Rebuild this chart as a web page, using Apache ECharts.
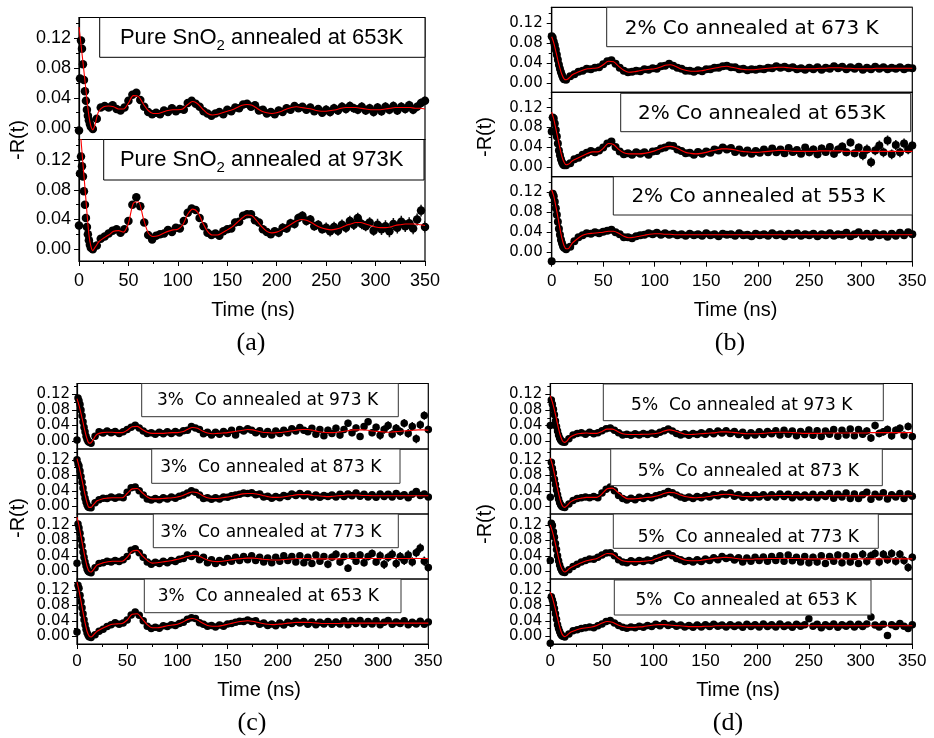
<!DOCTYPE html>
<html>
<head>
<meta charset="utf-8">
<title>-R(t) spectra</title>
<script src="https://cdn.jsdelivr.net/npm/echarts@6.0.0/dist/echarts.min.js"></script>
<style>
  html, body { margin: 0; padding: 0; background: #fff; }
  #chart { width: 934px; height: 738px; }
</style>
</head>
<body>
<div id="chart"></div>
<script>
// time grids (ns): fit curve samples and data point samples
const fitT = [0, 2, 4, 6, 8, 10, 12, 14, 16, 18, 20,
  25, 30, 35, 40, 45, 50, 55, 60, 65, 70,
  75, 80, 85, 90, 95, 100, 105, 110, 115, 120,
  125, 130, 135, 140, 145, 150, 155, 160, 165, 170,
  175, 180, 185, 190, 195, 200, 205, 210, 215, 220,
  225, 230, 235, 240, 245, 250, 255, 260, 265, 270,
  275, 280, 285, 290, 295, 300, 305, 310, 315, 320,
  325, 330, 335, 340, 345, 350]
const dataT = [0, 1, 2, 3, 4, 5, 6, 7, 8, 9, 10, 11, 12,
  14, 18, 22, 26, 30, 34, 38, 42, 46, 50,
  54, 58, 62, 66, 70, 74, 78, 82, 86, 90,
  94, 98, 102, 106, 110, 114, 118, 122, 126, 130,
  134, 138, 142, 146, 150, 154, 158, 162, 166, 170,
  174, 178, 182, 186, 190, 194, 198, 202, 206, 210,
  214, 218, 222, 226, 230, 234, 238, 242, 246, 250,
  254, 258, 262, 266, 270, 274, 278, 282, 286, 290,
  294, 298, 302, 306, 310, 314, 318, 322, 326, 330,
  334, 338, 342, 346, 350]

const yMajor = [0, 0.04, 0.08, 0.12]
const yMinor = [0.02, 0.06, 0.10, 0.14]

// ---- (a) pure SnO2 ----
const labelsA = ['Pure SnO{sub|2} annealed at 653K', 'Pure SnO{sub|2} annealed at 973K']
const fitA1 = [0.135, 0.112, 0.088, 0.063, 0.038, 0.016, 0.002, -0.003, 0.003, 0.014, 0.022,
  0.028, 0.029, 0.028, 0.025, 0.025, 0.033, 0.043, 0.042, 0.032, 0.023,
  0.019, 0.019, 0.021, 0.023, 0.024, 0.024, 0.025, 0.031, 0.035, 0.032,
  0.025, 0.019, 0.017, 0.018, 0.020, 0.022, 0.024, 0.027, 0.030, 0.031,
  0.030, 0.026, 0.022, 0.020, 0.019, 0.020, 0.022, 0.025, 0.027, 0.028,
  0.027, 0.026, 0.025, 0.023, 0.022, 0.022, 0.023, 0.024, 0.026, 0.027,
  0.027, 0.027, 0.026, 0.025, 0.024, 0.024, 0.024, 0.025, 0.026, 0.027,
  0.027, 0.027, 0.027, 0.026, 0.026, 0.025]
const dataA1 = [-0.004, 0.066, 0.117, 0.106, 0.085, 0.064, 0.049, 0.036, 0.024, 0.016, 0.010, 0.005, 0.001,
  -0.002, 0.012, 0.027, 0.029, 0.027, 0.030, 0.025, 0.023, 0.027, 0.036,
  0.044, 0.047, 0.037, 0.028, 0.021, 0.018, 0.020, 0.018, 0.023, 0.021,
  0.026, 0.022, 0.025, 0.024, 0.033, 0.036, 0.032, 0.028, 0.022, 0.019,
  0.016, 0.019, 0.021, 0.018, 0.024, 0.022, 0.027, 0.026, 0.031, 0.032,
  0.028, 0.030, 0.023, 0.024, 0.019, 0.021, 0.018, 0.023, 0.021, 0.026,
  0.024, 0.029, 0.026, 0.028, 0.024, 0.027, 0.022, 0.025, 0.020, 0.024,
  0.021, 0.026, 0.023, 0.028, 0.025, 0.029, 0.026, 0.024, 0.028, 0.023,
  0.026, 0.021, 0.027, 0.022, 0.028, 0.024, 0.029, 0.023, 0.028, 0.025,
  0.030, 0.024, 0.028, 0.033, 0.036]
const errA1 = [0.002, 0.003, 0.004, 0.004, 0.005, 0.006, 0.006]
const fitA2 = [0.180, 0.148, 0.115, 0.083, 0.050, 0.020, 0.004, -0.002, 0.002, 0.006, 0.010,
  0.015, 0.019, 0.024, 0.025, 0.023, 0.035, 0.062, 0.064, 0.042, 0.022,
  0.017, 0.018, 0.021, 0.024, 0.026, 0.027, 0.033, 0.047, 0.054, 0.050,
  0.036, 0.024, 0.019, 0.019, 0.022, 0.026, 0.030, 0.036, 0.042, 0.046,
  0.045, 0.038, 0.030, 0.024, 0.022, 0.023, 0.026, 0.030, 0.034, 0.038,
  0.040, 0.039, 0.036, 0.032, 0.029, 0.027, 0.026, 0.027, 0.029, 0.032,
  0.034, 0.036, 0.036, 0.034, 0.032, 0.030, 0.029, 0.029, 0.030, 0.032,
  0.033, 0.034, 0.034, 0.034, 0.033, 0.032]
const dataA2 = [0.032, 0.102, 0.125, 0.112, 0.098, 0.078, 0.060, 0.042, 0.030, 0.020, 0.012, 0.006, 0.002,
  0.000, 0.005, 0.014, 0.017, 0.021, 0.025, 0.027, 0.022, 0.027, 0.038,
  0.060, 0.070, 0.058, 0.036, 0.019, 0.013, 0.018, 0.020, 0.021, 0.026,
  0.023, 0.029, 0.028, 0.038, 0.049, 0.055, 0.053, 0.042, 0.031, 0.022,
  0.019, 0.021, 0.018, 0.024, 0.027, 0.028, 0.036, 0.037, 0.045, 0.047,
  0.047, 0.039, 0.036, 0.027, 0.023, 0.020, 0.024, 0.022, 0.029, 0.028,
  0.035, 0.034, 0.042, 0.045, 0.038, 0.040, 0.031, 0.033, 0.027, 0.029,
  0.024, 0.030, 0.025, 0.033, 0.029, 0.038, 0.033, 0.042, 0.034, 0.031,
  0.036, 0.025, 0.033, 0.027, 0.031, 0.024, 0.034, 0.029, 0.037, 0.031,
  0.035, 0.028, 0.040, 0.052, 0.030]
const errA2 = [0.002, 0.003, 0.004, 0.005, 0.006, 0.007, 0.008]

// ---- (b) 2% Co ----
const labelsB = ['2% Co annealed at 673 K', '2% Co annealed at 653K', '2% Co annealed at 553 K']
const fitB1 = [0.092, 0.080, 0.063, 0.045, 0.029, 0.016, 0.008, 0.006, 0.008, 0.012, 0.016,
  0.021, 0.025, 0.028, 0.029, 0.030, 0.036, 0.043, 0.042, 0.033, 0.025,
  0.021, 0.022, 0.024, 0.026, 0.027, 0.028, 0.031, 0.035, 0.036, 0.033,
  0.028, 0.025, 0.023, 0.023, 0.024, 0.026, 0.028, 0.030, 0.032, 0.033,
  0.031, 0.029, 0.027, 0.026, 0.026, 0.027, 0.028, 0.029, 0.030, 0.031,
  0.031, 0.030, 0.029, 0.028, 0.028, 0.028, 0.028, 0.029, 0.029, 0.030,
  0.030, 0.030, 0.029, 0.029, 0.028, 0.028, 0.028, 0.028, 0.029, 0.029,
  0.029, 0.029, 0.029, 0.029, 0.029, 0.029]
const dataB1 = [0.093, 0.090, 0.082, 0.075, 0.066, 0.056, 0.046, 0.036, 0.028, 0.021, 0.015, 0.010, 0.007,
  0.006, 0.013, 0.017, 0.022, 0.024, 0.028, 0.027, 0.030, 0.031, 0.037,
  0.043, 0.045, 0.038, 0.030, 0.024, 0.021, 0.022, 0.024, 0.023, 0.027,
  0.026, 0.029, 0.028, 0.033, 0.034, 0.038, 0.034, 0.030, 0.028, 0.024,
  0.024, 0.022, 0.025, 0.023, 0.027, 0.027, 0.030, 0.030, 0.033, 0.034,
  0.031, 0.031, 0.027, 0.028, 0.025, 0.027, 0.026, 0.028, 0.027, 0.030,
  0.029, 0.033, 0.030, 0.032, 0.029, 0.031, 0.027, 0.029, 0.026, 0.030,
  0.027, 0.031, 0.026, 0.030, 0.028, 0.033, 0.029, 0.032, 0.027, 0.031,
  0.028, 0.032, 0.026, 0.030, 0.027, 0.032, 0.028, 0.031, 0.027, 0.030,
  0.028, 0.031, 0.027, 0.030, 0.029]
const errB1 = [0.002, 0.003, 0.003, 0.004, 0.004, 0.005, 0.005]
const fitB2 = [0.111, 0.097, 0.078, 0.058, 0.038, 0.021, 0.010, 0.005, 0.006, 0.009, 0.013,
  0.018, 0.023, 0.028, 0.031, 0.031, 0.038, 0.048, 0.046, 0.036, 0.029,
  0.027, 0.027, 0.027, 0.028, 0.030, 0.033, 0.037, 0.041, 0.042, 0.040,
  0.035, 0.030, 0.028, 0.027, 0.028, 0.030, 0.033, 0.035, 0.037, 0.037,
  0.036, 0.034, 0.032, 0.031, 0.030, 0.030, 0.031, 0.032, 0.033, 0.034,
  0.034, 0.033, 0.032, 0.032, 0.032, 0.032, 0.032, 0.033, 0.033, 0.033,
  0.033, 0.033, 0.032, 0.032, 0.032, 0.032, 0.032, 0.032, 0.032, 0.032,
  0.032, 0.032, 0.032, 0.032, 0.032, 0.032]
const dataB2 = [0.072, 0.100, 0.098, 0.088, 0.075, 0.062, 0.048, 0.034, 0.024, 0.016, 0.010, 0.006, 0.004,
  0.004, 0.008, 0.016, 0.019, 0.025, 0.029, 0.033, 0.030, 0.034, 0.040,
  0.048, 0.052, 0.041, 0.032, 0.026, 0.028, 0.025, 0.030, 0.027, 0.030,
  0.025, 0.032, 0.033, 0.038, 0.040, 0.044, 0.043, 0.036, 0.033, 0.028,
  0.029, 0.025, 0.031, 0.027, 0.032, 0.029, 0.036, 0.034, 0.040, 0.036,
  0.039, 0.031, 0.036, 0.029, 0.034, 0.027, 0.033, 0.029, 0.036, 0.030,
  0.038, 0.030, 0.036, 0.028, 0.039, 0.031, 0.035, 0.027, 0.040, 0.030,
  0.036, 0.026, 0.038, 0.031, 0.041, 0.027, 0.036, 0.042, 0.030, 0.050,
  0.028, 0.040, 0.024, 0.036, 0.010, 0.034, 0.044, 0.030, 0.054, 0.026,
  0.045, 0.030, 0.048, 0.036, 0.044]
const errB2 = [0.002, 0.003, 0.004, 0.005, 0.006, 0.008, 0.010]
const fitB3 = [0.125, 0.112, 0.092, 0.070, 0.047, 0.027, 0.013, 0.007, 0.007, 0.012, 0.018,
  0.027, 0.034, 0.037, 0.038, 0.039, 0.040, 0.042, 0.042, 0.038, 0.032,
  0.029, 0.030, 0.032, 0.034, 0.036, 0.037, 0.037, 0.036, 0.036, 0.035,
  0.035, 0.035, 0.035, 0.035, 0.035, 0.035, 0.035, 0.035, 0.035, 0.035,
  0.035, 0.035, 0.035, 0.035, 0.035, 0.035, 0.035, 0.035, 0.035, 0.035,
  0.035, 0.035, 0.035, 0.035, 0.035, 0.035, 0.035, 0.035, 0.035, 0.035,
  0.035, 0.035, 0.035, 0.035, 0.035, 0.035, 0.035, 0.035, 0.035, 0.035,
  0.035, 0.035, 0.035, 0.035, 0.035, 0.035]
const dataB3 = [-0.018, 0.117, 0.112, 0.101, 0.088, 0.075, 0.061, 0.047, 0.035, 0.025, 0.018, 0.012, 0.009,
  0.006, 0.011, 0.022, 0.030, 0.034, 0.038, 0.037, 0.040, 0.038, 0.041,
  0.043, 0.045, 0.040, 0.036, 0.030, 0.030, 0.028, 0.032, 0.034, 0.035,
  0.038, 0.036, 0.039, 0.035, 0.038, 0.035, 0.037, 0.034, 0.036, 0.033,
  0.037, 0.034, 0.036, 0.033, 0.038, 0.034, 0.036, 0.032, 0.037, 0.035,
  0.036, 0.033, 0.038, 0.034, 0.035, 0.032, 0.037, 0.034, 0.036, 0.033,
  0.038, 0.034, 0.036, 0.032, 0.037, 0.035, 0.038, 0.033, 0.036, 0.034,
  0.037, 0.032, 0.036, 0.034, 0.038, 0.033, 0.036, 0.035, 0.039, 0.032,
  0.036, 0.040, 0.033, 0.037, 0.031, 0.038, 0.034, 0.036, 0.031, 0.037,
  0.033, 0.039, 0.034, 0.040, 0.036]
const errB3 = [0.002, 0.003, 0.003, 0.004, 0.004, 0.005, 0.006]

// ---- (c) 3% Co ----
const labelsC = ['3%  Co annealed at 973 K', '3%  Co annealed at 873 K', '3%  Co annealed at 773 K', '3%  Co annealed at 653 K']
const fitC1 = [0.109, 0.092, 0.071, 0.048, 0.025, 0.006, -0.005, -0.004, 0.003, 0.012, 0.018,
  0.022, 0.023, 0.023, 0.022, 0.022, 0.028, 0.037, 0.038, 0.030, 0.023,
  0.020, 0.020, 0.020, 0.021, 0.022, 0.022, 0.024, 0.030, 0.035, 0.033,
  0.026, 0.021, 0.019, 0.020, 0.021, 0.022, 0.024, 0.026, 0.028, 0.030,
  0.029, 0.026, 0.023, 0.022, 0.021, 0.022, 0.023, 0.025, 0.027, 0.029,
  0.030, 0.030, 0.028, 0.025, 0.023, 0.022, 0.022, 0.023, 0.025, 0.027,
  0.029, 0.029, 0.029, 0.028, 0.026, 0.025, 0.024, 0.023, 0.024, 0.025,
  0.026, 0.027, 0.028, 0.029, 0.029, 0.028]
const dataC1 = [0.003, 0.111, 0.104, 0.094, 0.080, 0.065, 0.050, 0.036, 0.024, 0.013, 0.005, 0.000, -0.003,
  -0.005, 0.013, 0.024, 0.021, 0.026, 0.022, 0.025, 0.020, 0.024, 0.030,
  0.036, 0.041, 0.034, 0.026, 0.020, 0.022, 0.018, 0.023, 0.019, 0.024,
  0.020, 0.025, 0.021, 0.027, 0.028, 0.038, 0.034, 0.030, 0.019, 0.023,
  0.016, 0.023, 0.018, 0.025, 0.020, 0.028, 0.016, 0.030, 0.026, 0.032,
  0.028, 0.022, 0.027, 0.018, 0.025, 0.016, 0.026, 0.020, 0.028, 0.022,
  0.032, 0.026, 0.035, 0.028, 0.024, 0.033, 0.018, 0.030, 0.014, 0.028,
  0.020, 0.033, 0.016, 0.030, 0.046, 0.022, 0.034, 0.012, 0.038, 0.050,
  0.022, 0.036, 0.015, 0.030, 0.040, 0.018, 0.033, 0.025, 0.046, 0.020,
  0.038, 0.006, 0.042, 0.066, 0.030]
const errC1 = [0.003, 0.004, 0.005, 0.006, 0.007, 0.009, 0.011]
const fitC2 = [0.123, 0.103, 0.080, 0.055, 0.030, 0.009, -0.003, -0.003, 0.003, 0.009, 0.014,
  0.019, 0.021, 0.022, 0.022, 0.022, 0.033, 0.045, 0.046, 0.035, 0.024,
  0.019, 0.019, 0.020, 0.021, 0.022, 0.024, 0.027, 0.033, 0.037, 0.035,
  0.028, 0.022, 0.020, 0.020, 0.022, 0.024, 0.026, 0.029, 0.032, 0.033,
  0.033, 0.031, 0.028, 0.025, 0.023, 0.023, 0.024, 0.026, 0.028, 0.030,
  0.030, 0.030, 0.028, 0.027, 0.026, 0.025, 0.026, 0.027, 0.028, 0.029,
  0.029, 0.029, 0.028, 0.028, 0.027, 0.027, 0.027, 0.027, 0.027, 0.027,
  0.027, 0.027, 0.027, 0.027, 0.027, 0.027]
const dataC2 = [0.120, 0.110, 0.104, 0.091, 0.077, 0.062, 0.047, 0.033, 0.021, 0.011, 0.004, -0.001, -0.003,
  -0.004, 0.009, 0.017, 0.021, 0.020, 0.024, 0.021, 0.024, 0.022, 0.036,
  0.048, 0.050, 0.040, 0.029, 0.019, 0.016, 0.020, 0.017, 0.022, 0.019,
  0.024, 0.021, 0.026, 0.029, 0.034, 0.040, 0.036, 0.029, 0.020, 0.022,
  0.018, 0.022, 0.019, 0.024, 0.023, 0.027, 0.029, 0.031, 0.034, 0.033,
  0.035, 0.030, 0.032, 0.024, 0.026, 0.021, 0.025, 0.022, 0.028, 0.025,
  0.032, 0.028, 0.033, 0.027, 0.032, 0.024, 0.029, 0.023, 0.028, 0.025,
  0.029, 0.024, 0.031, 0.025, 0.032, 0.027, 0.034, 0.026, 0.031, 0.024,
  0.030, 0.023, 0.032, 0.025, 0.031, 0.024, 0.033, 0.026, 0.030, 0.022,
  0.031, 0.038, 0.028, 0.032, 0.024]
const errC2 = [0.003, 0.004, 0.004, 0.005, 0.005, 0.006, 0.007]
const fitC3 = [0.140, 0.118, 0.090, 0.062, 0.035, 0.013, 0.000, -0.002, 0.003, 0.010, 0.016,
  0.021, 0.024, 0.026, 0.026, 0.026, 0.036, 0.052, 0.054, 0.040, 0.028,
  0.021, 0.022, 0.024, 0.026, 0.028, 0.031, 0.034, 0.038, 0.041, 0.040,
  0.035, 0.029, 0.026, 0.025, 0.026, 0.028, 0.030, 0.032, 0.033, 0.034,
  0.034, 0.033, 0.031, 0.030, 0.029, 0.029, 0.030, 0.031, 0.032, 0.033,
  0.033, 0.033, 0.032, 0.032, 0.032, 0.032, 0.032, 0.032, 0.033, 0.033,
  0.033, 0.033, 0.033, 0.033, 0.033, 0.033, 0.033, 0.033, 0.033, 0.033,
  0.033, 0.033, 0.033, 0.033, 0.033, 0.033]
const dataC3 = [0.021, 0.122, 0.112, 0.098, 0.082, 0.066, 0.050, 0.036, 0.024, 0.014, 0.006, 0.001, -0.002,
  -0.004, 0.009, 0.020, 0.022, 0.026, 0.024, 0.028, 0.025, 0.030, 0.038,
  0.054, 0.058, 0.048, 0.036, 0.024, 0.018, 0.023, 0.020, 0.026, 0.022,
  0.028, 0.025, 0.031, 0.033, 0.042, 0.038, 0.044, 0.030, 0.036, 0.022,
  0.030, 0.020, 0.028, 0.023, 0.033, 0.026, 0.036, 0.028, 0.038, 0.030,
  0.040, 0.028, 0.036, 0.024, 0.034, 0.022, 0.036, 0.026, 0.040, 0.028,
  0.038, 0.024, 0.040, 0.022, 0.036, 0.020, 0.042, 0.026, 0.038, 0.018,
  0.036, 0.044, 0.024, 0.038, 0.008, 0.040, 0.026, 0.042, 0.022, 0.038,
  0.046, 0.024, 0.040, 0.018, 0.036, 0.044, 0.020, 0.038, 0.028, 0.042,
  0.024, 0.048, 0.060, 0.026, 0.010]
const errC3 = [0.003, 0.004, 0.005, 0.007, 0.008, 0.010, 0.012]
const fitC4 = [0.140, 0.118, 0.090, 0.062, 0.035, 0.013, 0.001, -0.002, 0.002, 0.008, 0.013,
  0.020, 0.026, 0.031, 0.032, 0.033, 0.042, 0.057, 0.058, 0.045, 0.030,
  0.022, 0.022, 0.024, 0.027, 0.029, 0.031, 0.036, 0.043, 0.046, 0.042,
  0.034, 0.028, 0.026, 0.026, 0.028, 0.031, 0.034, 0.037, 0.039, 0.040,
  0.039, 0.036, 0.033, 0.031, 0.030, 0.031, 0.032, 0.034, 0.035, 0.036,
  0.036, 0.036, 0.035, 0.034, 0.033, 0.033, 0.033, 0.033, 0.034, 0.034,
  0.034, 0.034, 0.034, 0.034, 0.034, 0.034, 0.034, 0.034, 0.034, 0.034,
  0.034, 0.034, 0.034, 0.034, 0.034, 0.034]
const dataC4 = [0.011, 0.132, 0.124, 0.106, 0.090, 0.074, 0.058, 0.043, 0.030, 0.018, 0.009, 0.003, -0.001,
  -0.003, 0.004, 0.013, 0.018, 0.025, 0.030, 0.035, 0.031, 0.034, 0.042,
  0.055, 0.063, 0.054, 0.040, 0.026, 0.020, 0.023, 0.021, 0.027, 0.025,
  0.030, 0.028, 0.033, 0.036, 0.044, 0.048, 0.046, 0.035, 0.031, 0.026,
  0.028, 0.024, 0.029, 0.026, 0.032, 0.033, 0.036, 0.039, 0.038, 0.042,
  0.038, 0.040, 0.031, 0.034, 0.028, 0.032, 0.027, 0.034, 0.029, 0.036,
  0.033, 0.039, 0.034, 0.038, 0.031, 0.037, 0.030, 0.036, 0.032, 0.038,
  0.031, 0.037, 0.032, 0.040, 0.030, 0.039, 0.033, 0.041, 0.031, 0.038,
  0.032, 0.040, 0.030, 0.036, 0.041, 0.031, 0.037, 0.033, 0.040, 0.030,
  0.036, 0.032, 0.039, 0.031, 0.037]
const errC4 = [0.003, 0.004, 0.004, 0.005, 0.005, 0.006, 0.006]

// ---- (d) 5% Co ----
const labelsD = ['5%  Co annealed at 973 K', '5%  Co annealed at 873 K', '5%  Co annealed at 773 K', '5%  Co annealed at 653 K']
const fitD1 = [0.117, 0.100, 0.080, 0.056, 0.032, 0.012, 0.000, -0.003, 0.000, 0.007, 0.012,
  0.018, 0.020, 0.021, 0.020, 0.020, 0.025, 0.031, 0.031, 0.025, 0.019,
  0.017, 0.017, 0.017, 0.018, 0.018, 0.019, 0.021, 0.026, 0.029, 0.027,
  0.022, 0.018, 0.017, 0.018, 0.019, 0.020, 0.021, 0.022, 0.024, 0.024,
  0.023, 0.022, 0.020, 0.019, 0.019, 0.019, 0.020, 0.021, 0.022, 0.023,
  0.023, 0.023, 0.022, 0.021, 0.020, 0.020, 0.020, 0.020, 0.021, 0.021,
  0.021, 0.021, 0.021, 0.021, 0.021, 0.021, 0.021, 0.022, 0.022, 0.022,
  0.022, 0.022, 0.022, 0.022, 0.022, 0.022]
const dataD1 = [0.040, 0.106, 0.095, 0.082, 0.068, 0.052, 0.038, 0.026, 0.016, 0.008, 0.003, 0.000, -0.002,
  -0.003, 0.006, 0.016, 0.020, 0.022, 0.018, 0.023, 0.019, 0.022, 0.027,
  0.032, 0.034, 0.028, 0.022, 0.016, 0.018, 0.015, 0.019, 0.016, 0.020,
  0.017, 0.021, 0.018, 0.023, 0.027, 0.031, 0.026, 0.020, 0.016, 0.019,
  0.015, 0.020, 0.017, 0.022, 0.018, 0.024, 0.019, 0.026, 0.021, 0.027,
  0.020, 0.025, 0.017, 0.023, 0.014, 0.022, 0.016, 0.024, 0.017, 0.025,
  0.019, 0.027, 0.016, 0.028, 0.018, 0.026, 0.014, 0.025, 0.017, 0.029,
  0.015, 0.027, 0.012, 0.026, 0.018, 0.030, 0.013, 0.028, 0.016, 0.031,
  0.014, 0.030, 0.018, 0.026, 0.008, 0.040, 0.020, 0.024, 0.030, 0.014,
  0.028, 0.033, 0.015, 0.038, 0.012]
const errD1 = [0.003, 0.004, 0.004, 0.005, 0.006, 0.008, 0.010]
const fitD2 = [0.125, 0.107, 0.083, 0.058, 0.033, 0.012, 0.000, -0.003, 0.001, 0.007, 0.012,
  0.018, 0.021, 0.023, 0.023, 0.023, 0.032, 0.045, 0.047, 0.037, 0.026,
  0.019, 0.019, 0.020, 0.022, 0.023, 0.025, 0.028, 0.033, 0.036, 0.035,
  0.030, 0.025, 0.023, 0.022, 0.023, 0.024, 0.026, 0.028, 0.030, 0.031,
  0.030, 0.028, 0.026, 0.025, 0.025, 0.025, 0.026, 0.027, 0.027, 0.028,
  0.028, 0.028, 0.027, 0.027, 0.027, 0.027, 0.027, 0.027, 0.027, 0.027,
  0.027, 0.027, 0.027, 0.027, 0.027, 0.027, 0.027, 0.027, 0.027, 0.027,
  0.027, 0.027, 0.027, 0.027, 0.027, 0.027]
const dataD2 = [0.023, 0.114, 0.098, 0.086, 0.070, 0.056, 0.042, 0.030, 0.019, 0.010, 0.004, 0.000, -0.002,
  -0.003, 0.006, 0.015, 0.020, 0.022, 0.024, 0.022, 0.025, 0.022, 0.034,
  0.044, 0.050, 0.040, 0.028, 0.020, 0.016, 0.021, 0.017, 0.023, 0.020,
  0.025, 0.022, 0.027, 0.030, 0.033, 0.038, 0.035, 0.029, 0.024, 0.021,
  0.024, 0.020, 0.025, 0.022, 0.027, 0.024, 0.030, 0.027, 0.032, 0.030,
  0.034, 0.026, 0.030, 0.023, 0.028, 0.022, 0.029, 0.024, 0.030, 0.023,
  0.030, 0.024, 0.032, 0.025, 0.031, 0.022, 0.030, 0.024, 0.029, 0.023,
  0.031, 0.022, 0.030, 0.025, 0.033, 0.021, 0.031, 0.024, 0.034, 0.020,
  0.032, 0.020, 0.030, 0.036, 0.018, 0.031, 0.024, 0.035, 0.019, 0.030,
  0.024, 0.033, 0.020, 0.032, 0.026]
const errD2 = [0.003, 0.004, 0.004, 0.005, 0.005, 0.007, 0.008]
const fitD3 = [0.120, 0.103, 0.082, 0.058, 0.034, 0.014, 0.002, -0.002, 0.001, 0.006, 0.010,
  0.016, 0.022, 0.027, 0.030, 0.033, 0.040, 0.046, 0.045, 0.035, 0.027,
  0.025, 0.025, 0.025, 0.026, 0.027, 0.030, 0.035, 0.040, 0.042, 0.040,
  0.034, 0.029, 0.027, 0.027, 0.028, 0.030, 0.032, 0.034, 0.035, 0.036,
  0.035, 0.033, 0.031, 0.031, 0.031, 0.032, 0.032, 0.033, 0.033, 0.033,
  0.033, 0.033, 0.033, 0.033, 0.032, 0.032, 0.032, 0.032, 0.032, 0.032,
  0.032, 0.032, 0.032, 0.032, 0.032, 0.032, 0.032, 0.032, 0.032, 0.032,
  0.032, 0.032, 0.032, 0.032, 0.032, 0.032]
const dataD3 = [0.028, 0.124, 0.118, 0.102, 0.088, 0.072, 0.056, 0.040, 0.027, 0.016, 0.008, 0.002, -0.002,
  -0.003, 0.004, 0.012, 0.018, 0.024, 0.028, 0.032, 0.031, 0.036, 0.042,
  0.047, 0.048, 0.040, 0.030, 0.024, 0.022, 0.027, 0.023, 0.028, 0.025,
  0.029, 0.027, 0.033, 0.036, 0.041, 0.045, 0.040, 0.033, 0.030, 0.025,
  0.028, 0.024, 0.030, 0.025, 0.032, 0.028, 0.035, 0.030, 0.038, 0.033,
  0.036, 0.029, 0.035, 0.024, 0.034, 0.026, 0.036, 0.028, 0.037, 0.026,
  0.038, 0.028, 0.040, 0.026, 0.042, 0.027, 0.036, 0.024, 0.038, 0.022,
  0.036, 0.024, 0.040, 0.020, 0.038, 0.026, 0.042, 0.022, 0.040, 0.024,
  0.038, 0.020, 0.044, 0.026, 0.040, 0.046, 0.024, 0.044, 0.030, 0.046,
  0.026, 0.044, 0.028, 0.010, 0.036]
const errD3 = [0.003, 0.004, 0.005, 0.006, 0.007, 0.009, 0.011]
const fitD4 = [0.114, 0.100, 0.080, 0.058, 0.035, 0.015, 0.003, -0.001, 0.002, 0.007, 0.011,
  0.016, 0.020, 0.022, 0.024, 0.028, 0.034, 0.038, 0.036, 0.030, 0.025,
  0.023, 0.023, 0.024, 0.025, 0.027, 0.029, 0.030, 0.030, 0.029, 0.028,
  0.027, 0.026, 0.025, 0.025, 0.025, 0.026, 0.026, 0.027, 0.027, 0.027,
  0.027, 0.027, 0.027, 0.027, 0.027, 0.027, 0.027, 0.027, 0.027, 0.027,
  0.027, 0.027, 0.027, 0.027, 0.027, 0.027, 0.027, 0.027, 0.027, 0.027,
  0.027, 0.027, 0.027, 0.027, 0.027, 0.027, 0.027, 0.027, 0.027, 0.027,
  0.027, 0.027, 0.027, 0.027, 0.027, 0.027]
const dataD4 = [-0.018, 0.102, 0.094, 0.085, 0.072, 0.058, 0.044, 0.030, 0.020, 0.012, 0.006, 0.002, 0.000,
  -0.002, 0.006, 0.014, 0.017, 0.020, 0.022, 0.024, 0.022, 0.027, 0.032,
  0.038, 0.041, 0.034, 0.028, 0.023, 0.021, 0.024, 0.022, 0.026, 0.023,
  0.028, 0.025, 0.031, 0.027, 0.033, 0.028, 0.031, 0.026, 0.029, 0.024,
  0.028, 0.023, 0.029, 0.024, 0.030, 0.025, 0.031, 0.026, 0.029, 0.024,
  0.030, 0.025, 0.029, 0.023, 0.031, 0.025, 0.030, 0.024, 0.032, 0.025,
  0.030, 0.024, 0.032, 0.025, 0.029, 0.023, 0.031, 0.026, 0.030, 0.045,
  0.026, 0.031, 0.022, 0.030, 0.025, 0.032, 0.023, 0.030, 0.026, 0.031,
  0.024, 0.031, 0.025, 0.032, 0.050, 0.029, 0.024, 0.031, 0.002, 0.030,
  0.025, 0.033, 0.026, 0.020, 0.030]
const errD4 = [0.003, 0.004, 0.004, 0.005, 0.005, 0.006, 0.007]

// ---- layout of the four panels (pixels) ----
const SANS = 'Liberation Sans'
const WIDE = 'DejaVu Sans'
const SERIF = 'Liberation Serif'

const panels = [
  {
    letter: '(a)', left: 79, width: 346, tops: [17.5, 139.5], heights: [122, 121.5],
    yMin: -0.016, yMax: 0.148, dot: 8.5,
    fits: [fitA1, fitA2], datas: [dataA1, dataA2], errs: [errA1, errA2], labels: labelsA,
    boxes: [[99.7, 17.5, 325.3, 39.8, 261.7, 38], [103.7, 139.5, 320.3, 40.5, 261.7, 160]],
    boxFont: SANS, boxSize: 22, boxStroke: '#000',
    yFont: SANS, ySize: 18, yMargin: 8, xSize: 18, xMargin: 11,
    timeXY: [253, 310], rXY: [18, 140], letterXY: [251, 343]
  },
  {
    letter: '(b)', left: 551.7, width: 360.6, tops: [7.3, 92.3, 176.7], heights: [85, 84.4, 85],
    yMin: -0.019, yMax: 0.151, dot: 8,
    fits: [fitB1, fitB2, fitB3], datas: [dataB1, dataB2, dataB3], errs: [errB1, errB2, errB3], labels: labelsB,
    boxes: [[606.7, 7.3, 305.6, 39.4, 751.7, 28.3], [620.7, 93.3, 290, 38.4, 761.7, 114], [613.3, 176.7, 299, 38.3, 758.3, 196.7]],
    boxFont: WIDE, boxSize: 20, boxStroke: '#222',
    yFont: WIDE, ySize: 15, yMargin: 9, xSize: 17, xMargin: 11,
    timeXY: [735.5, 310], rXY: [485, 137], letterXY: [730, 343]
  },
  {
    letter: '(c)', left: 77, width: 351.3, tops: [383.5, 449, 514, 579], heights: [65.5, 65, 65, 65],
    yMin: -0.02, yMax: 0.148, dot: 7.5,
    fits: [fitC1, fitC2, fitC3, fitC4], datas: [dataC1, dataC2, dataC3, dataC4], errs: [errC1, errC2, errC3, errC4], labels: labelsC,
    boxes: [[141.7, 383.5, 256.6, 33.2, 267.5, 400.7], [151.7, 449, 248.3, 34.3, 270.8, 467.3],
      [153.3, 514, 245, 33.7, 270.8, 532.3], [144.3, 579, 256.7, 33.7, 268.3, 596.7]],
    boxFont: WIDE, boxSize: 17, boxStroke: '#333',
    yFont: WIDE, ySize: 15, yMargin: 7, xSize: 17, xMargin: 9,
    timeXY: [259, 690], rXY: [18, 518], letterXY: [252, 723]
  },
  {
    letter: '(d)', left: 550.3, width: 362, tops: [383.5, 449, 514, 579], heights: [65.5, 65, 65, 65],
    yMin: -0.02, yMax: 0.148, dot: 7.5,
    fits: [fitD1, fitD2, fitD3, fitD4], datas: [dataD1, dataD2, dataD3, dataD4], errs: [errD1, errD2, errD3, errD4], labels: labelsD,
    boxes: [[603.3, 384, 280, 36.7, 741.7, 406], [610.7, 449, 271.6, 36.7, 748.3, 471.7],
      [613.3, 514, 265, 34.3, 748.3, 537.3], [614.3, 580, 256.7, 35, 746, 601]],
    boxFont: WIDE, boxSize: 17, boxStroke: '#333',
    yFont: WIDE, ySize: 15, yMargin: 8, xSize: 17, xMargin: 9,
    timeXY: [738, 690], rXY: [485, 524], letterXY: [728, 723]
  }
]

const grids = []
const xAxes = []
const yAxes = []
const series = []
const graphics = []

// vertical error bar drawn through the axis scales
function renderErr(params, api) {
  const t = api.value(0)
  const v = api.value(1)
  const e = api.value(2)
  const lo = api.coord([t, v - e])
  const hi = api.coord([t, v + e])
  return {
    type: 'line',
    shape: { x1: lo[0], y1: lo[1], x2: hi[0], y2: hi[1] },
    style: { stroke: '#111', lineWidth: 1.5 }
  }
}

panels.forEach(p => {
  p.tops.forEach((top, k) => {
    const gi = grids.length
    const last = k === p.tops.length - 1
    grids.push({
      left: p.left, top: top, width: p.width, height: p.heights[k],
      show: true, borderColor: '#000', borderWidth: 1.2, backgroundColor: 'transparent'
    })
    xAxes.push({
      type: 'value', gridIndex: gi, min: 0, max: 350, interval: 50, show: last,
      axisLine: { show: true, onZero: false, lineStyle: { color: '#000', width: 1.2 } },
      axisTick: { length: 5, lineStyle: { color: '#000', width: 1 } },
      minorTick: { show: true, splitNumber: 2, length: 3, lineStyle: { color: '#000', width: 1 } },
      axisLabel: { color: '#000', fontFamily: SANS, fontSize: p.xSize, margin: p.xMargin },
      splitLine: { show: false }, minorSplitLine: { show: false }
    })
    const yi = yAxes.length
    yAxes.push({
      type: 'value', gridIndex: gi, position: 'left', min: p.yMin, max: p.yMax,
      axisLine: { show: true, onZero: false, lineStyle: { color: '#000', width: 1.2 } },
      axisTick: { show: true, customValues: yMajor, length: 5, lineStyle: { color: '#000', width: 1 } },
      axisLabel: {
        customValues: yMajor, formatter: v => v.toFixed(2),
        color: '#000', fontFamily: p.yFont, fontSize: p.ySize, margin: p.yMargin
      },
      splitLine: { show: false }
    })
    // minor ticks on a second, label-less axis
    yAxes.push({
      type: 'value', gridIndex: gi, position: 'left', min: p.yMin, max: p.yMax,
      axisLine: { show: false },
      axisTick: { show: true, customValues: yMinor, length: 3, lineStyle: { color: '#000', width: 1 } },
      axisLabel: { show: false },
      splitLine: { show: false }
    })

    const data = p.datas[k]
    const err = p.errs[k]
    const fit = p.fits[k]
    series.push({
      type: 'custom', xAxisIndex: gi, yAxisIndex: yi, clip: true, silent: true, z: 1,
      renderItem: renderErr, encode: { x: 0, y: 1 },
      data: data.map((v, j) => [dataT[j], v, err[Math.min(6, Math.floor(dataT[j] / 50))]])
    })
    series.push({
      type: 'scatter', xAxisIndex: gi, yAxisIndex: yi, clip: true, silent: true, z: 2,
      symbol: 'circle', symbolSize: p.dot, itemStyle: { color: '#000', opacity: 1 },
      data: data.map((v, j) => [dataT[j], v])
    })
    series.push({
      type: 'line', xAxisIndex: gi, yAxisIndex: yi, clip: true, silent: true, z: 3,
      symbol: 'none', showSymbol: false, smooth: 0.3,
      lineStyle: { color: '#ff0000', width: 1.1 },
      data: fit.map((v, j) => [fitT[j], v])
    })

    // label box
    const b = p.boxes[k]
    graphics.push({
      type: 'rect', z: 50, silent: true,
      shape: { x: b[0], y: b[1], width: b[2], height: b[3] },
      style: { fill: '#fff', stroke: p.boxStroke, lineWidth: 1 }
    })
    graphics.push({
      type: 'text', z: 51, silent: true, x: b[4], y: b[5],
      style: {
        text: p.labels[k], fill: '#000', fontFamily: p.boxFont, fontSize: p.boxSize,
        align: 'center', verticalAlign: 'middle', lineHeight: 30,
        rich: {
          sub: { fontFamily: p.boxFont, fontSize: Math.round(p.boxSize * 0.68), verticalAlign: 'bottom', lineHeight: 30 }
        }
      }
    })
  })

  graphics.push({
    type: 'text', z: 51, silent: true, x: p.timeXY[0], y: p.timeXY[1],
    style: { text: 'Time (ns)', fill: '#000', fontFamily: SANS, fontSize: 20, align: 'center', verticalAlign: 'middle' }
  })
  graphics.push({
    type: 'text', z: 51, silent: true, x: p.rXY[0], y: p.rXY[1], rotation: Math.PI / 2,
    style: { text: '-R(t)', fill: '#000', fontFamily: SANS, fontSize: 20, align: 'center', verticalAlign: 'middle' }
  })
  graphics.push({
    type: 'text', z: 51, silent: true, x: p.letterXY[0], y: p.letterXY[1],
    style: { text: p.letter, fill: '#000', fontFamily: SERIF, fontSize: 26, align: 'center', verticalAlign: 'middle' }
  })
})

const chart = echarts.init(document.getElementById('chart'))
chart.setOption({
  animation: false,
  backgroundColor: '#fff',
  grid: grids,
  xAxis: xAxes,
  yAxis: yAxes,
  series: series,
  graphic: { elements: graphics }
})
</script>
</body>
</html>
